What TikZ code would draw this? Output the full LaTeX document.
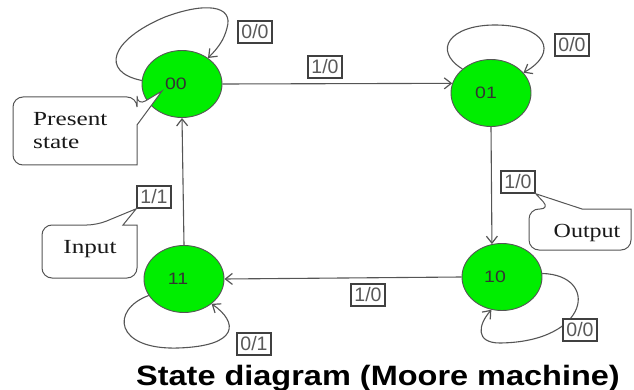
\documentclass[tikz,border=0pt]{standalone}
\usepackage{fontspec}
\setmainfont{Liberation Serif}
\setsansfont{Liberation Sans}
\usetikzlibrary{arrows.meta,shapes.geometric}
\definecolor{stgreen}{HTML}{00EE00}
\definecolor{edgegray}{HTML}{555555}
\newcommand{\wide}[2]{\scalebox{#1}[1]{#2}}
\begin{document}
\begin{tikzpicture}[x=1pt,y=-1pt,
 state/.style={ellipse,draw=edgegray,line width=0.9pt,fill=stgreen,minimum width=80pt,minimum height=67pt,inner sep=0pt,font=\sffamily\fontsize{16.5}{16.5}\selectfont,text=black!80},
 tlabel/.style={draw=black!75,line width=1.5pt,fill=white,inner sep=1pt,minimum width=34pt,minimum height=22pt,font=\sffamily\fontsize{19.5}{19.5}\selectfont,text=black!65},
 conn/.style={draw=edgegray,line width=1.1pt,-{Straight Barb[length=7pt,width=11pt,line width=1.2pt]}},
 callout/.style={draw=edgegray,line width=1pt,fill=white},
 ctext/.style={font=\fontsize{20}{23}\selectfont,align=left,inner sep=0pt,text=black!90}]
\useasboundingbox (0,0) rectangle (634,390);
% states
\node[state] (s00) at (182,84) {\hspace*{-12pt}\wide{1.18}{00}};
\node[state] (s01) at (491,93) {\hspace*{-10pt}\wide{1.18}{01}};
\node[state] (s11) at (184,279) {\hspace*{-12pt}\wide{1.18}{11}};
\node[state] (s10) at (502,277) {\hspace*{-14pt}\wide{1.18}{10}};
% transitions
\draw[conn] (s00.east) -- (s01.166);
\draw[conn] (s01.south) -- (s10.107);
\draw[conn] (s10.west) -- (s11.east);
\draw[conn] (s11.north) -- (s00.south);
% self loops
\draw[conn] (s00.175) .. controls (100,72) and (110,40) .. (165,17) .. controls (205,2) and (234,5) .. (227,28) .. controls (224,40) and (218,48) .. (s00.45);
\draw[conn] (s01.140) .. controls (432,50) and (450,25) .. (495,25) .. controls (545,25) and (560,52) .. (s01.32);
\draw[conn] (s11.205) .. controls (110,310) and (115,350) .. (178,348) .. controls (240,346) and (238,322) .. (s11.318);
\draw[conn] (s10.5) .. controls (600,275) and (590,342) .. (500,343) .. controls (475,343) and (478,325) .. (s10.252);
% transition labels
\node[tlabel] (l0001) at (325,67) {1/0};
\node[tlabel] (l0110) at (518,182) {1/0};
\node[tlabel] (l1011) at (368,295) {1/0};
\node[tlabel] (l1100) at (154,197) {1/1};
\node[tlabel] (l00) at (255,32) {0/0};
\node[tlabel] (l01) at (572,45) {0/0};
\node[tlabel] (l11) at (254,344) {0/1};
\node[tlabel] (l10) at (580,330) {0/0};
% callouts
\coordinate (tpres) at (162,91);
\coordinate (tin) at (l1100.south west);
\coordinate (tout) at (l0110.south east);
\draw[callout,rounded corners=10] (13,131) -- (13,97) -- (137,97) -- (137,106) [sharp corners] -- (tpres) -- (137,125) -- (137,165) [rounded corners=10] -- (13,165) -- cycle;
\draw[callout,rounded corners=10] (42,250) -- (42,225) -- (97,225) [sharp corners] -- (tin) -- (123,225) -- (137,225) [rounded corners=10] -- (137,278) -- (42,278) -- cycle;
\draw[callout,rounded corners=10] (529,230) -- (529,209) -- (550,209) [sharp corners] -- (tout) -- (582,209) -- (631,209) [rounded corners=10] -- (631,250) -- (529,250) -- cycle;
\node[ctext,anchor=north west] (cpres) at (33,112) {\wide{1.26}{Present}\\\wide{1.26}{state}};
\node[ctext,anchor=base] (cin) at (90,253) {\wide{1.26}{Input}};
\node[ctext,anchor=base] (cout) at (587,237) {\wide{1.2}{Output}};
% title
\node[anchor=base,inner sep=0pt,font=\sffamily\bfseries\fontsize{28}{28}\selectfont] (title) at (378,385) {\wide{1.16}{State diagram (Moore machine)}};
\end{tikzpicture}
\end{document}
